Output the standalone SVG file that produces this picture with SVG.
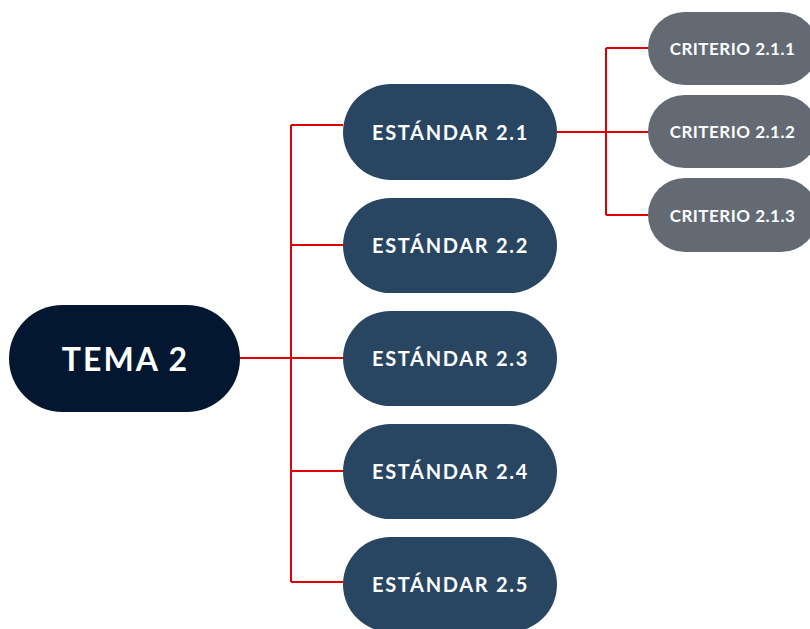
<svg xmlns="http://www.w3.org/2000/svg" width="810" height="629" viewBox="0 0 810 629">
<style>
.tema{fill:#041731}
.est{fill:#284562}
.cri{fill:#636a74}
text{font-family:"Lato","Open Sans","Liberation Sans",sans-serif;font-weight:bold;fill:#ffffff;text-anchor:middle;dominant-baseline:central}
.t1{font-size:32px;letter-spacing:2px}
.t2{font-size:20px;letter-spacing:1.7px}
.t3{font-size:17px;letter-spacing:0.5px}
.c{stroke:#e00000;stroke-width:2;fill:none}
</style>
<rect width="810" height="629" fill="#ffffff"/>
<g id="connectors">
<path class="c" d="M240 358 H343 M291 125 V582 M291 125 H343 M291 245 H343 M291 471 H343 M291 582 H343"/>
<path class="c" d="M557 132 H648 M606 48 V215 M606 48 H648 M606 215 H648"/>
</g>
<g id="tema2"><rect class="tema" x="9" y="305" width="231" height="107" rx="53.5"/><text class="t1" x="125.5" y="358.5">TEMA 2</text></g>
<g id="est21"><rect class="est" x="343" y="84" width="214" height="96" rx="48"/><text class="t2" x="450.5" y="132">ESTÁNDAR 2.1</text></g>
<g id="est22"><rect class="est" x="343" y="198" width="214" height="95" rx="47.5"/><text class="t2" x="450.5" y="245">ESTÁNDAR 2.2</text></g>
<g id="est23"><rect class="est" x="343" y="311" width="214" height="95" rx="47.5"/><text class="t2" x="450.5" y="358">ESTÁNDAR 2.3</text></g>
<g id="est24"><rect class="est" x="343" y="424" width="214" height="95" rx="47.5"/><text class="t2" x="450.5" y="471">ESTÁNDAR 2.4</text></g>
<g id="est25"><rect class="est" x="343" y="537" width="214" height="95" rx="47.5"/><text class="t2" x="450.5" y="584">ESTÁNDAR 2.5</text></g>
<g id="cri211"><rect class="cri" x="648" y="12" width="170" height="73" rx="36.5"/><text class="t3" x="732.5" y="48">CRITERIO 2.1.1</text></g>
<g id="cri212"><rect class="cri" x="648" y="95" width="170" height="73" rx="36.5"/><text class="t3" x="732.5" y="131">CRITERIO 2.1.2</text></g>
<g id="cri213"><rect class="cri" x="648" y="178" width="170" height="74" rx="37"/><text class="t3" x="732.5" y="215">CRITERIO 2.1.3</text></g>
</svg>
